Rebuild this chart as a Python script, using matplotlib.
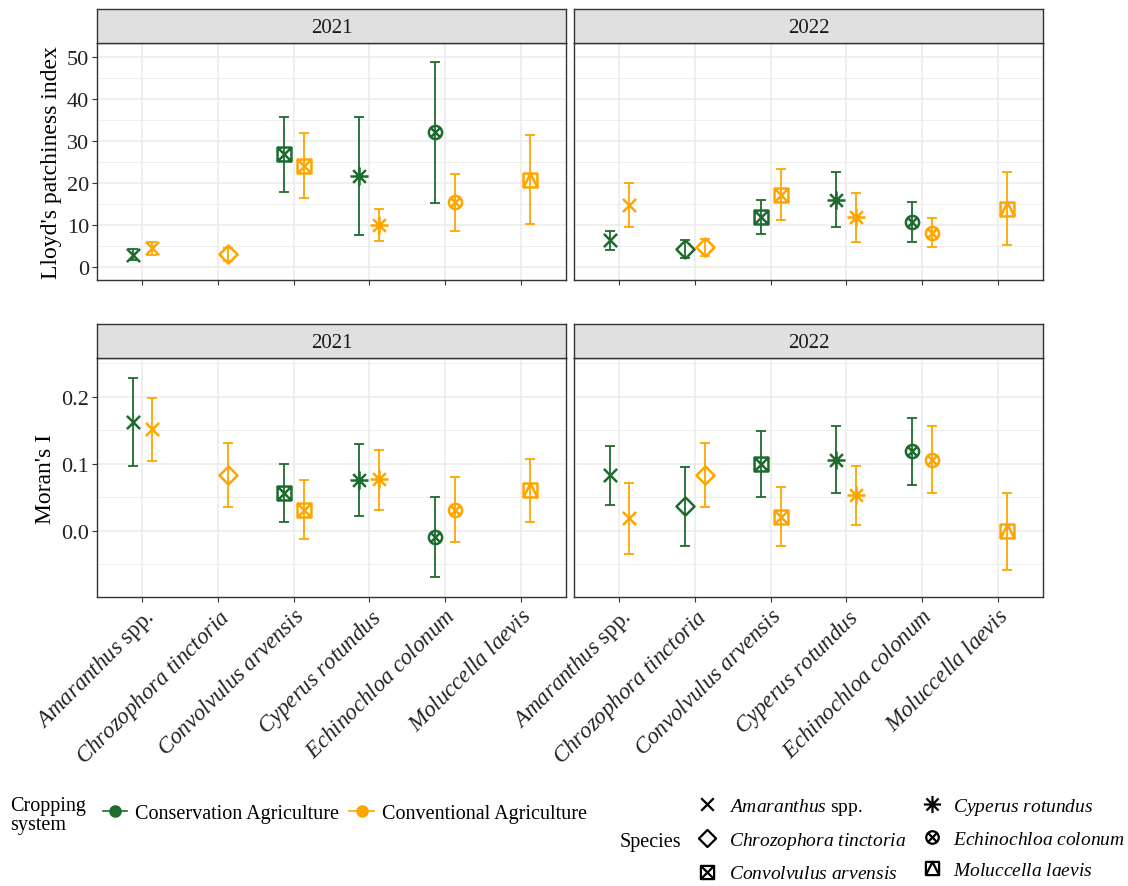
import numpy as np
import matplotlib
matplotlib.use('Agg')
import matplotlib.pyplot as plt
from matplotlib.path import Path
from matplotlib.lines import Line2D

plt.rcParams['font.family'] = 'Liberation Serif'
plt.rcParams['mathtext.fontset'] = 'custom'
plt.rcParams['mathtext.rm'] = 'Liberation Serif'
plt.rcParams['mathtext.it'] = 'Liberation Serif:italic'

species = ["Amaranthus spp.", "Chrozophora tinctoria", "Convolvulus arvensis",
           "Cyperus rotundus", "Echinochloa colonum", "Moluccella laevis"]
species_labels = [r"$\it{Amaranthus}$ spp.", r"$\it{Chrozophora\ tinctoria}$",
                  r"$\it{Convolvulus\ arvensis}$", r"$\it{Cyperus\ rotundus}$",
                  r"$\it{Echinochloa\ colonum}$", r"$\it{Moluccella\ laevis}$"]
systems = ["Conservation Agriculture", "Conventional Agriculture"]
years = ["2021", "2022"]

# Lloyd's patchiness index: mean, lower, upper  (nan = not present)
nan = np.nan
lloyd_mean = {
    ("2021", "Conservation Agriculture"): [2.9, nan, 26.9, 21.7, 32.1, nan],
    ("2021", "Conventional Agriculture"): [4.4, 3.0, 24.1, 10.0, 15.4, 20.8],
    ("2022", "Conservation Agriculture"): [6.4, 4.3, 12.0, 16.0, 10.7, nan],
    ("2022", "Conventional Agriculture"): [14.8, 4.7, 17.2, 11.8, 8.2, 13.9],
}
lloyd_lo = {
    ("2021", "Conservation Agriculture"): [1.7, nan, 17.9, 7.5, 15.3, nan],
    ("2021", "Conventional Agriculture"): [2.9, 1.5, 16.4, 6.3, 8.6, 10.2],
    ("2022", "Conservation Agriculture"): [4.0, 2.1, 7.9, 9.5, 6.0, nan],
    ("2022", "Conventional Agriculture"): [9.4, 2.6, 11.2, 6.0, 4.8, 5.2],
}
lloyd_hi = {
    ("2021", "Conservation Agriculture"): [4.2, nan, 35.8, 35.8, 48.8, nan],
    ("2021", "Conventional Agriculture"): [5.9, 4.5, 31.8, 13.8, 22.1, 31.3],
    ("2022", "Conservation Agriculture"): [8.6, 6.5, 16.0, 22.7, 15.4, nan],
    ("2022", "Conventional Agriculture"): [20.1, 6.7, 23.2, 17.7, 11.7, 22.6],
}

moran_mean = {
    ("2021", "Conservation Agriculture"): [0.163, nan, 0.057, 0.076, -0.009, nan],
    ("2021", "Conventional Agriculture"): [0.152, 0.084, 0.032, 0.077, 0.032, 0.061],
    ("2022", "Conservation Agriculture"): [0.083, 0.037, 0.100, 0.106, 0.119, nan],
    ("2022", "Conventional Agriculture"): [0.019, 0.084, 0.021, 0.054, 0.106, 0.000],
}
moran_lo = {
    ("2021", "Conservation Agriculture"): [0.097, nan, 0.013, 0.022, -0.068, nan],
    ("2021", "Conventional Agriculture"): [0.105, 0.036, -0.012, 0.031, -0.016, 0.014],
    ("2022", "Conservation Agriculture"): [0.038, -0.022, 0.051, 0.057, 0.068, nan],
    ("2022", "Conventional Agriculture"): [-0.034, 0.036, -0.022, 0.009, 0.057, -0.058],
}
moran_hi = {
    ("2021", "Conservation Agriculture"): [0.228, nan, 0.100, 0.129, 0.051, nan],
    ("2021", "Conventional Agriculture"): [0.198, 0.131, 0.076, 0.121, 0.081, 0.108],
    ("2022", "Conservation Agriculture"): [0.127, 0.096, 0.149, 0.156, 0.169, nan],
    ("2022", "Conventional Agriculture"): [0.072, 0.131, 0.065, 0.097, 0.156, 0.056],
}

colors = {"Conservation Agriculture": "#1d6b2e", "Conventional Agriculture": "#ffa500"}
offsets = {"Conservation Agriculture": -0.13, "Conventional Agriculture": 0.13}


# ggplot-like shapes as paths
def lines_path(segs):
    verts, codes = [], []
    for a, b in segs:
        verts += [a, b]
        codes += [Path.MOVETO, Path.LINETO]
    return Path(verts, codes)

d = 0.7071
sq = Path([(-1, -1), (1, -1), (1, 1), (-1, 1), (-1, -1)],
          [Path.MOVETO, Path.LINETO, Path.LINETO, Path.LINETO, Path.CLOSEPOLY])
xcross = lines_path([((-1, -1), (1, 1)), ((-1, 1), (1, -1))])
circ = Path.unit_circle()
shape_x = xcross
shape_diamond = Path([(0, 1), (1, 0), (0, -1), (-1, 0), (0, 1)],
                     [Path.MOVETO, Path.LINETO, Path.LINETO, Path.LINETO, Path.CLOSEPOLY])
shape_sqx = Path.make_compound_path(sq, xcross)
shape_ast = lines_path([((-1, 0), (1, 0)), ((0, -1), (0, 1)),
                        ((-d, -d), (d, d)), ((-d, d), (d, -d))])
shape_circx = Path.make_compound_path(circ, lines_path([((-d, -d), (d, d)), ((-d, d), (d, -d))]))
shape_sqtri = Path.make_compound_path(
    sq, Path([(-1, -1), (0, 1), (1, -1)], [Path.MOVETO, Path.LINETO, Path.LINETO]))

shapes = [shape_x, shape_diamond, shape_sqx, shape_ast, shape_circx, shape_sqtri]
sizes = [9.5, 13, 10, 13, 9.5, 10]

W, H = 1128, 887
fig = plt.figure(figsize=(W / 100, H / 100), dpi=100)

panel_x = [97, 574]
panel_w = 469
rows = [(44, 281, 10), (359, 598, 325)]

metrics = [
    (lloyd_mean, lloyd_lo, lloyd_hi, (-3.1, 53.3), [0, 10, 20, 30, 40, 50],
     np.arange(5, 55, 10), ["0", "10", "20", "30", "40", "50"], "Lloyd's patchiness index"),
    (moran_mean, moran_lo, moran_hi, (-0.0985, 0.258), [0.0, 0.1, 0.2],
     [-0.05, 0.05, 0.15, 0.25], ["0.0", "0.1", "0.2"], "Moran's I"),
]

x = np.arange(len(species))
grid_c = "#ebebeb"
frame_c = "#333333"

for r, (top, bot, stop) in enumerate(rows):
    mean, lo, hi, ylim, yt, ymin, ytl, ylab = metrics[r]
    for c, yr in enumerate(years):
        x0 = panel_x[c]
        ax = fig.add_axes([x0 / W, 1 - bot / H, panel_w / W, (bot - top) / H])
        ax.set_xlim(-0.6, len(species) - 0.4)
        ax.set_ylim(*ylim)
        ax.set_yticks(yt)
        ax.set_yticks(ymin, minor=True)
        ax.set_xticks(x)
        ax.grid(True, which='major', color=grid_c, lw=1.1, zorder=0)
        ax.grid(True, which='minor', axis='y', color=grid_c, lw=0.6, zorder=0)
        ax.set_axisbelow(True)
        for s in ax.spines.values():
            s.set_color(frame_c)
            s.set_linewidth(1.0)
        ax.tick_params(axis='both', which='major', length=3.5, color=frame_c,
                       labelsize=16, labelcolor='#222222', pad=2)
        ax.tick_params(axis='y', which='minor', length=0)
        if c == 0:
            ax.set_yticklabels(ytl)
            ax.set_ylabel(ylab, fontsize=17, labelpad=4)
        else:
            ax.tick_params(axis='y', which='major', length=0, labelleft=False)
        if r == 0:
            ax.tick_params(axis='x', labelbottom=False)
        else:
            ax.set_xticklabels(species_labels, rotation=45, ha='right',
                               rotation_mode='anchor', fontsize=16.5)

        for sysname in systems:
            m = np.array(mean[(yr, sysname)], dtype=float)
            l = np.array(lo[(yr, sysname)], dtype=float)
            h = np.array(hi[(yr, sysname)], dtype=float)
            xs = x + offsets[sysname]
            col = colors[sysname]
            ok = ~np.isnan(m)
            ax.errorbar(xs[ok], m[ok], yerr=[m[ok] - l[ok], h[ok] - m[ok]], fmt='none',
                        ecolor=col, elinewidth=1.3, capsize=3.5, capthick=1.3, zorder=3)
            for i in np.where(ok)[0]:
                ax.plot(xs[i], m[i], linestyle='none', marker=shapes[i], ms=sizes[i],
                        mfc='none', mec=col, mew=1.8, zorder=4)

        # facet strip
        sax = fig.add_axes([x0 / W, 1 - top / H, panel_w / W, (top - stop) / H])
        sax.set_facecolor('#e1e0e1')
        sax.set_xticks([])
        sax.set_yticks([])
        for s in sax.spines.values():
            s.set_color(frame_c)
            s.set_linewidth(1.0)
        sax.text(0.5, 0.47, yr, ha='center', va='center', fontsize=15, color='#1a1a1a',
                 transform=sax.transAxes)

# legends
sys_handles = [Line2D([], [], color=colors[s], marker='o', ms=8, lw=1.2) for s in systems]
leg1 = fig.legend(sys_handles, systems, loc='center left', bbox_to_anchor=(85 / W, 1 - 814 / H),
                  ncol=2, frameon=False, fontsize=14.5, handlelength=1.2, handletextpad=0.4,
                  columnspacing=0.5)
fig.text(10 / W, 1 - 816 / H, "Cropping\nsystem", fontsize=14.5, ha='left', va='center',
         linespacing=0.95)

sp_handles = [Line2D([], [], linestyle='none', marker=shapes[i], ms=sizes[i] * 0.95, mfc='none',
                     mec='black', mew=1.6) for i in range(len(species))]
leg2 = fig.legend(sp_handles, species_labels, loc='center left',
                  bbox_to_anchor=(678 / W, 1 - 840 / H), ncol=2, frameon=False, fontsize=14,
                  handlelength=1.2, handletextpad=0.5, columnspacing=0.75, labelspacing=0.7)
fig.text(620 / W, 1 - 843 / H, "Species", fontsize=14.5, ha='left', va='center')

fig.savefig("out.png", dpi=100)
